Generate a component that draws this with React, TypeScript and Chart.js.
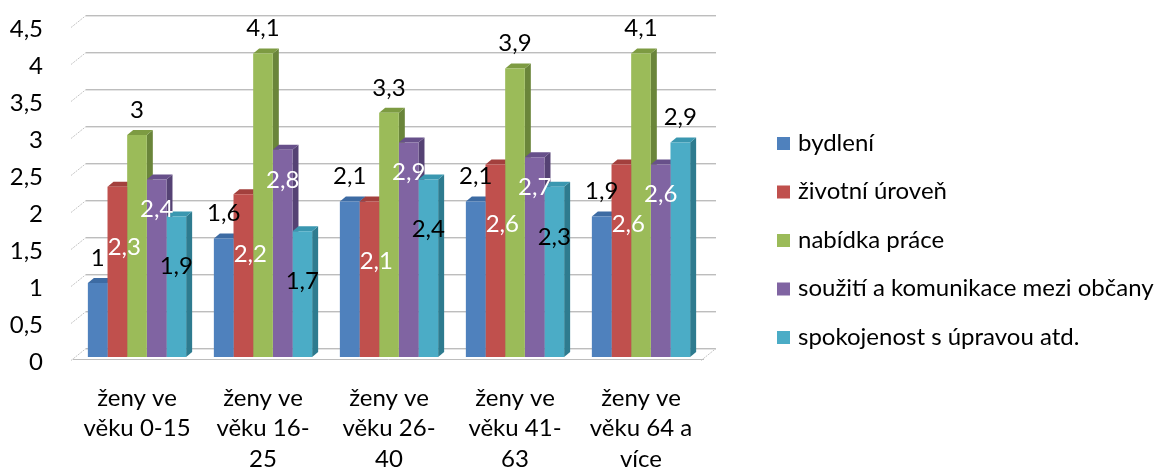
import React, { useEffect, useRef } from "react";
import { Chart, registerables } from "chart.js";

Chart.register(...registerables);

const categories: string[][] = [
  ["ženy ve", "věku 0-15"],
  ["ženy ve", "věku 16-", "25"],
  ["ženy ve", "věku 26-", "40"],
  ["ženy ve", "věku 41-", "63"],
  ["ženy ve", "věku 64 a", "více"],
];
const seriesNames = [
  "bydlení",
  "životní úroveň",
  "nabídka práce",
  "soužití a komunikace mezi občany",
  "spokojenost s úpravou atd.",
];
const bydleni = [1, 1.6, 2.1, 2.1, 1.9];
const zivotniUroven = [2.3, 2.2, 2.1, 2.6, 2.6];
const nabidkaPrace = [3, 4.1, 3.3, 3.9, 4.1];
const souziti = [2.4, 2.8, 2.9, 2.7, 2.6];
const spokojenost = [1.9, 1.7, 2.4, 2.3, 2.9];
const yMax = 4.5;
const yStep = 0.5;

const frontColors = ["#4F81BD", "#C0504D", "#9BBB59", "#8064A2", "#4BACC6"];
const topColors = ["#3D6BA3", "#A3403D", "#7D9B42", "#67508A", "#3A97B0"];
const sideColors = ["#335A8A", "#8A3533", "#6A853A", "#554274", "#2E7B8F"];

const FONT = "Lato, 'Open Sans', sans-serif";
const fmt = (v: number) => String(v).replace(".", ",");

const BAR_DX = 6;
const BAR_DY = -5;
const WALL_DX = 12;
const WALL_DY = -9;

const threeD = {
  id: "threeD",
  beforeDatasetsDraw(chart: any) {
    const ctx = chart.ctx;
    const ca = chart.chartArea;
    const y = chart.scales.y;
    ctx.save();
    for (let v = 0; v <= yMax + 1e-9; v += yStep) {
      const py = Math.round(y.getPixelForValue(v)) + 0.5;
      ctx.lineWidth = 1;
      ctx.strokeStyle = "#BDBDBD";
      ctx.beginPath();
      ctx.moveTo(ca.left + WALL_DX, py + WALL_DY);
      ctx.lineTo(ca.right + WALL_DX, py + WALL_DY);
      ctx.stroke();
      ctx.strokeStyle = "#E4E4E4";
      ctx.beginPath();
      ctx.moveTo(ca.left + WALL_DX, py + WALL_DY + 1);
      ctx.lineTo(ca.right + WALL_DX, py + WALL_DY + 1);
      ctx.stroke();
      ctx.strokeStyle = "#C4C4C4";
      ctx.setLineDash([2, 1]);
      ctx.beginPath();
      ctx.moveTo(ca.left - 3, py + 3);
      ctx.lineTo(ca.left + WALL_DX, py + WALL_DY);
      ctx.stroke();
      ctx.setLineDash([]);
    }
    const base = Math.round(y.getPixelForValue(0)) + 0.5;
    ctx.strokeStyle = "#BDBDBD";
    ctx.beginPath();
    ctx.moveTo(ca.left - 1, base + 2);
    ctx.lineTo(ca.right, base + 2);
    ctx.stroke();
    ctx.strokeStyle = "#C4C4C4";
    ctx.setLineDash([2, 1]);
    ctx.beginPath();
    ctx.moveTo(ca.right - 3, base + 3);
    ctx.lineTo(ca.right + WALL_DX, base + WALL_DY);
    ctx.stroke();
    ctx.setLineDash([]);

    chart.data.datasets.forEach((ds: any, di: number) => {
      const meta = chart.getDatasetMeta(di);
      meta.data.forEach((bar: any) => {
        const { x, y: top, base: b, width } = bar.getProps(["x", "y", "base", "width"], true);
        const l = x - width / 2;
        const r = x + width / 2;
        ctx.fillStyle = sideColors[di];
        ctx.beginPath();
        ctx.moveTo(r, top);
        ctx.lineTo(r + BAR_DX, top + BAR_DY);
        ctx.lineTo(r + BAR_DX, b + BAR_DY);
        ctx.lineTo(r, b);
        ctx.closePath();
        ctx.fill();
        ctx.fillStyle = topColors[di];
        ctx.beginPath();
        ctx.moveTo(l, top);
        ctx.lineTo(l + BAR_DX, top + BAR_DY);
        ctx.lineTo(r + BAR_DX, top + BAR_DY);
        ctx.lineTo(r, top);
        ctx.closePath();
        ctx.fill();
      });
    });
    ctx.restore();
  },
  afterDatasetsDraw(chart: any) {
    const ctx = chart.ctx;
    ctx.save();
    ctx.font = `24px ${FONT}`;
    ctx.textAlign = "center";
    ctx.textBaseline = "middle";
    chart.data.datasets.forEach((ds: any, di: number) => {
      const meta = chart.getDatasetMeta(di);
      meta.data.forEach((bar: any, i: number) => {
        const { x, y: top } = bar.getProps(["x", "y"], true);
        const v = ds.data[i];
        let lx = x;
        let ly = top - 25;
        let color = "#000";
        if (di === 1) {
          lx = x + 7;
          ly = top + 60;
          color = "#fff";
        } else if (di === 3) {
          ly = top + 30;
          color = "#fff";
        } else if (di === 4) {
          const prev = chart.data.datasets[3].data[i];
          if (v <= prev) ly = top + 50;
        }
        ctx.fillStyle = color;
        ctx.fillText(fmt(v), lx, ly);
      });
    });
    ctx.restore();
  },
  afterDraw(chart: any) {
    const ctx = chart.ctx;
    ctx.save();
    ctx.font = `24px ${FONT}`;
    ctx.textBaseline = "middle";
    ctx.textAlign = "left";
    const n = chart.data.datasets.length;
    const gap = 48.5;
    const cy = 232;
    const x0 = 769;
    chart.data.datasets.forEach((ds: any, di: number) => {
      const yy = cy + (di - (n - 1) / 2) * gap;
      ctx.fillStyle = frontColors[di];
      ctx.fillRect(x0, yy - 6, 13, 13);
      ctx.fillStyle = "#000";
      ctx.fillText(ds.label, x0 + 21, yy);
    });
    ctx.restore();
  },
};

const seriesValues = [bydleni, zivotniUroven, nabidkaPrace, souziti, spokojenost];

export default function App() {
  const ref = useRef<HTMLCanvasElement | null>(null);
  useEffect(() => {
    if (!ref.current) return;
    const chart = new Chart(ref.current, {
      type: "bar",
      data: {
        labels: categories,
        datasets: seriesValues.map((vals, i) => ({
          label: seriesNames[i],
          data: vals,
          backgroundColor: frontColors[i],
          borderWidth: 0,
          categoryPercentage: 0.78,
          barPercentage: 1.0,
        })),
      },
      options: {
        animation: false,
        responsive: true,
        maintainAspectRatio: false,
        layout: { padding: { top: 16, right: 454, left: 0, bottom: 0 } },
        plugins: {
          legend: { display: false },
          tooltip: { enabled: false },
        },
        scales: {
          x: {
            grid: { display: false, drawTicks: false },
            border: { display: false },
            ticks: {
              font: { family: FONT, size: 24, lineHeight: 1.27 },
              color: "#000",
              padding: 26,
              maxRotation: 0,
              autoSkip: false,
            },
            afterFit(scale: any) {
              scale.height = 114;
              scale.paddingLeft = 0;
              scale.paddingRight = 0;
            },
          },
          y: {
            min: 0,
            max: yMax,
            grid: { display: false, drawTicks: false },
            border: { display: false },
            ticks: {
              stepSize: yStep,
              font: { family: FONT, size: 24 },
              color: "#000",
              padding: 31,
              labelOffset: 5,
              callback: (v: any) => fmt(Number(v)),
            },
            afterFit(scale: any) {
              scale.width = 66;
              scale.paddingTop = 0;
              scale.paddingBottom = 0;
            },
          },
        },
      },
      plugins: [threeD],
    });
    return () => chart.destroy();
  }, []);
  return (
    <div style={{ position: "fixed", top: 8, left: 8, width: 1150, height: 463 }}>
      <canvas ref={ref} />
    </div>
  );
}
